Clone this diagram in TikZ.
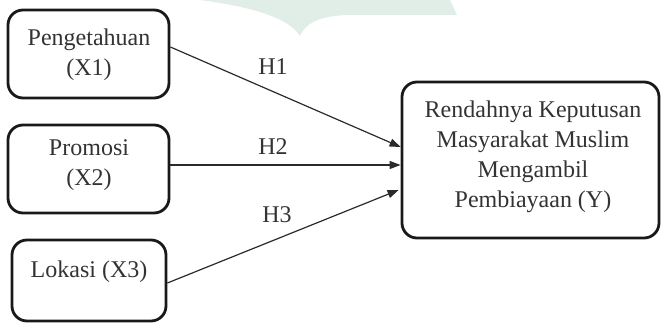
\documentclass[tikz,border=0pt]{standalone}
\usepackage{fontspec}
\setmainfont{Liberation Serif}
\usetikzlibrary{arrows.meta}
\definecolor{txtgray}{HTML}{333333}
\definecolor{linegray}{HTML}{2A2A2A}
\definecolor{wmgreen}{RGB}{225,238,232}
\tikzset{
  box/.style={draw=black!90, line width=2.8pt, rounded corners=15pt, inner sep=0pt},
  txt/.style={text=txtgray, font=\fontsize{24}{30}\selectfont, align=center, inner sep=0pt},
  arr/.style={draw=linegray, line width=1.2pt, -{Triangle[length=11pt,width=8pt]}},
  hlab/.style={txt}
}
\begin{document}
\begin{tikzpicture}[x=1pt,y=-1pt]
\useasboundingbox (0,0) rectangle (661,323);
% watermark
\fill[wmgreen] (200,0) -- (450,0) -- (457,15) -- (345,15)
  .. controls (315,17) and (305,25) .. (300,36)
  .. controls (290,20) and (260,8) .. (200,0) -- cycle;
% boxes
\node[box, minimum width=161pt, minimum height=88pt] (x1) at (88.5,54) {};
\node[box, minimum width=161pt, minimum height=88pt] (x2) at (88.5,169) {};
\node[box, minimum width=154pt, minimum height=81pt] (x3) at (89,280.5) {};
\node[box, minimum width=257pt, minimum height=156pt] (y) at (530.5,160) {};
% texts
\node[txt] (t1) at (89,55) {Pengetahuan\\(X1)};
\node[txt] (t2) at (89,165) {Promosi\\(X2)};
\node[txt] (t3) at (89,272) {Lokasi (X3)};
\node[txt] (ty) at (533,157) {Rendahnya Keputusan\\Masyarakat Muslim\\Mengambil\\Pembiayaan (Y)};
% arrows
\draw[arr] ([yshift=7pt]x1.east) -- ([yshift=13pt]y.west);
\draw[arr] ([yshift=4pt]x2.east) -- ([yshift=-5pt]y.west);
\draw[arr] ([yshift=-2.5pt]x3.east) -- ([xshift=-2pt,yshift=-30pt]y.west);
% labels
\node[hlab] (h1) at (273,67) {H1};
\node[hlab] (h2) at (273,147) {H2};
\node[hlab] (h3) at (277,215) {H3};
\end{tikzpicture}
\end{document}
